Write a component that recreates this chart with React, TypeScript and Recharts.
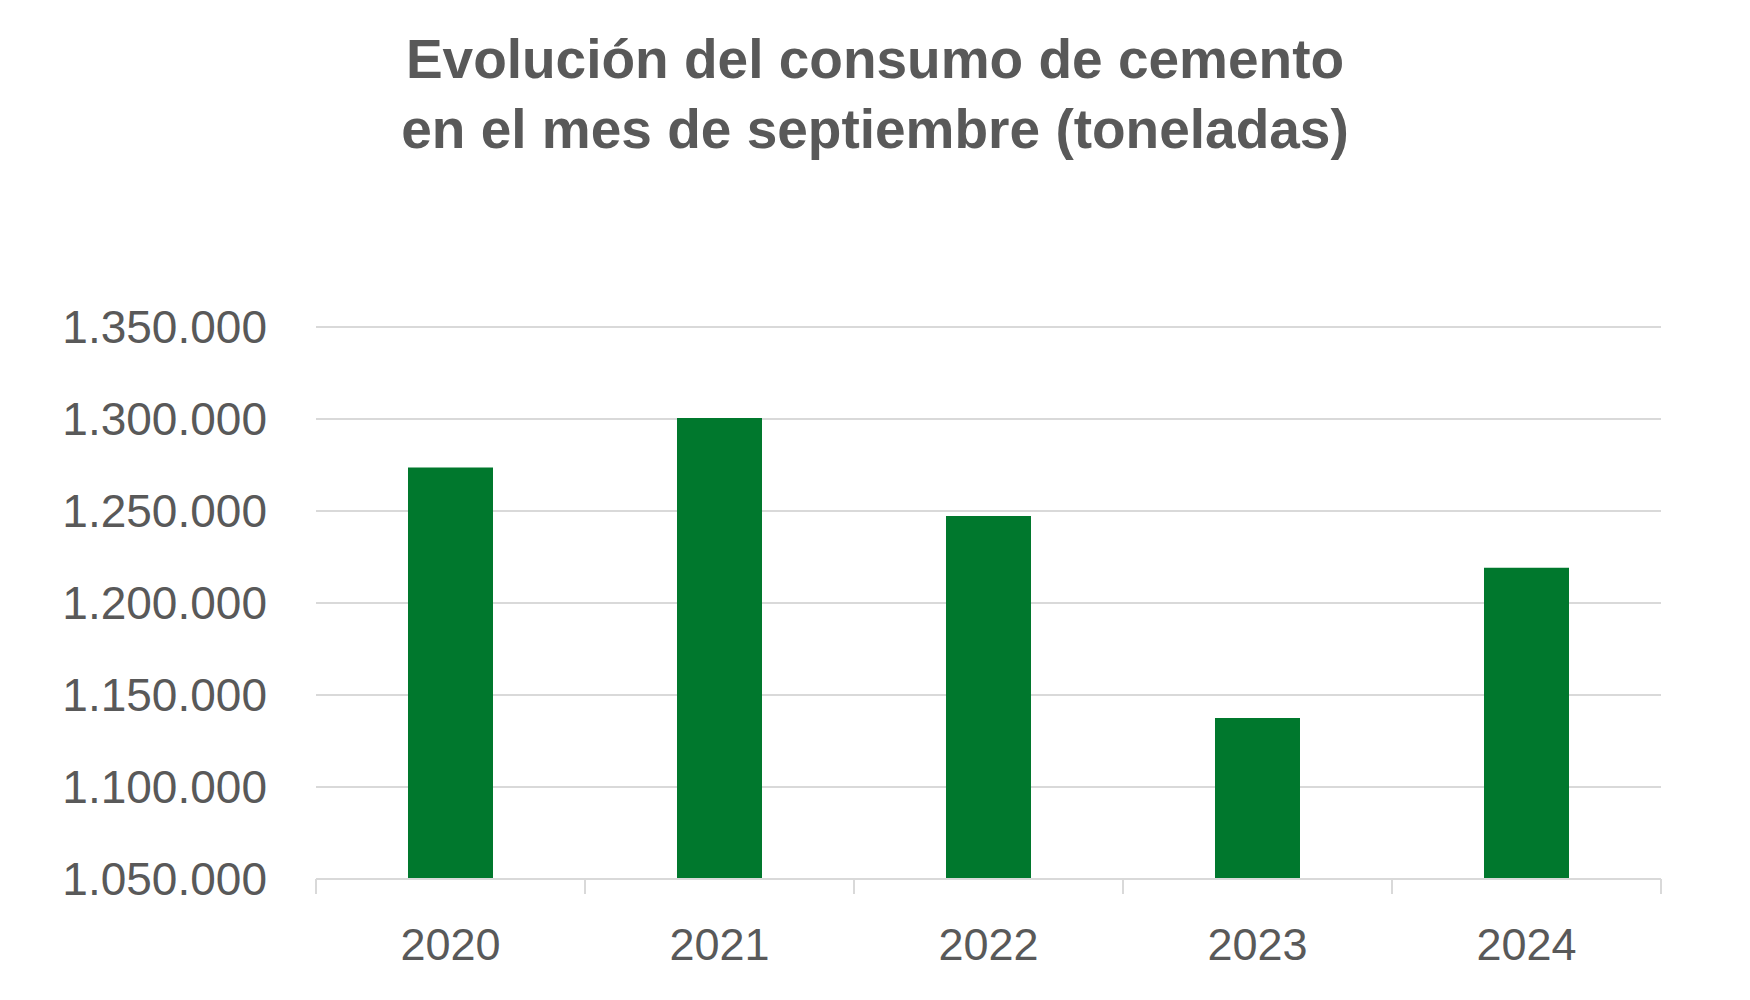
import { BarChart, Bar, XAxis, YAxis, CartesianGrid } from 'recharts';

const years = ['2020', '2021', '2022', '2023', '2024'];
const consumo = [1273600, 1300600, 1247300, 1137500, 1219200];
const yTicks = [1050000, 1100000, 1150000, 1200000, 1250000, 1300000, 1350000];
const titleLines = ['Evolución del consumo de cemento', 'en el mes de septiembre (toneladas)'];

const data = years.map((y, i) => ({ year: y, value: consumo[i] }));

const W = 1750;
const H = 1000;
const margin = { top: 327, right: 89, bottom: 0, left: 0 };
const Y_AXIS_W = 316;
const X_AXIS_H = 121;
const plotW = W - margin.left - margin.right - Y_AXIS_W;
const band = plotW / years.length;

const TEXT = '#595959';
const GRID = '#d9d9d9';
const FONT = '"Liberation Sans", Arial, sans-serif';

const fmt = (v: number) => String(v).replace(/\B(?=(\d{3})+(?!\d))/g, '.');

// excel style: tick marks sit between categories, not under them
function YearTick(props: any) {
    const { x, y, payload, index } = props;
    const left = x - band / 2;
    return (
        <g>
            <line x1={left} x2={left} y1={y} y2={y + 15} stroke={GRID} strokeWidth={2} />
            {index === years.length - 1 && (
                <line x1={x + band / 2} x2={x + band / 2} y1={y} y2={y + 15} stroke={GRID} strokeWidth={2} />
            )}
            <text x={x} y={y} dy={81} textAnchor="middle" fill={TEXT} fontSize={45} fontFamily={FONT}>
                {payload.value}
            </text>
        </g>
    );
}

export default function App() {
    return (
        <div style={{ position: 'absolute', left: 0, top: 0, width: W, height: H, background: '#fff' }}>
            <div
                style={{
                    position: 'absolute',
                    top: 24,
                    left: 0,
                    width: W,
                    textAlign: 'center',
                    fontFamily: FONT,
                    fontWeight: 'bold',
                    fontSize: 55,
                    lineHeight: '70px',
                    color: TEXT,
                }}
            >
                {titleLines.map((l) => (
                    <div key={l}>{l}</div>
                ))}
            </div>
            <BarChart width={W} height={H} data={data} margin={margin} barCategoryGap="34.2%">
                <CartesianGrid vertical={false} stroke={GRID} strokeWidth={2} />
                <XAxis
                    dataKey="year"
                    height={X_AXIS_H}
                    axisLine={{ stroke: GRID, strokeWidth: 2 }}
                    tickLine={false}
                    tickSize={0}
                    tickMargin={0}
                    tick={<YearTick />}
                    interval={0}
                />
                <YAxis
                    width={Y_AXIS_W}
                    domain={[1050000, 1350000]}
                    ticks={yTicks}
                    tickFormatter={fmt}
                    axisLine={false}
                    tickLine={false}
                    tickSize={0}
                    tickMargin={49}
                    tick={{ fill: TEXT, fontSize: 46, fontFamily: FONT }}
                    allowDataOverflow
                />
                <Bar dataKey="value" fill="#00782d" isAnimationActive={false} />
            </BarChart>
        </div>
    );
}
